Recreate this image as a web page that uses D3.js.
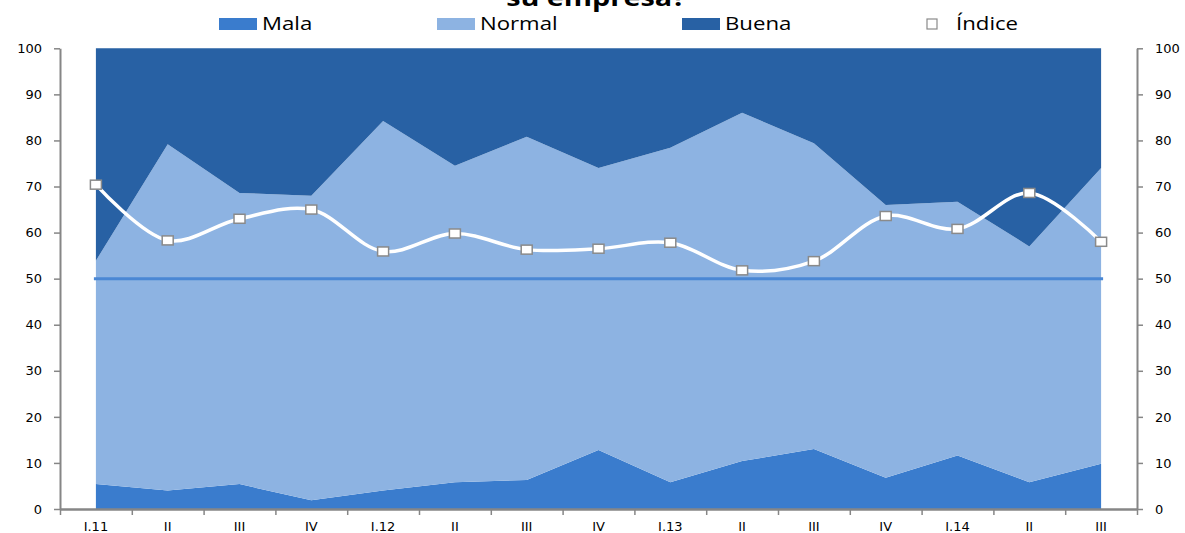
<!DOCTYPE html>
<html>
<head>
<meta charset="utf-8">
<script src="https://cdn.jsdelivr.net/npm/d3@7"></script>
<style>
  body { margin: 0; background: #fff; }
  svg { display: block; }
  .axis path, .axis line { stroke: #868686; }
  .axis text { font-family: "DejaVu Sans", sans-serif; font-size: 13px; fill: #000; }
</style>
</head>
<body>
<div id="chart"></div>
<script>
// categories (quarters) and series values
const categories = ["I.11", "II", "III", "IV", "I.12", "II", "III", "IV", "I.13", "II", "III", "IV", "I.14", "II", "III"];
const mala = [5.4, 4.0, 5.4, 1.9, 4.0, 5.8, 6.3, 12.8, 5.8, 10.4, 13.0, 6.8, 11.6, 5.8, 9.8];
const normal = [48.5, 75.2, 63.2, 66.1, 80.2, 68.7, 74.5, 61.2, 72.6, 75.6, 66.4, 59.2, 55.1, 51.2, 64.2];
const buena = [46.1, 20.8, 31.4, 32.0, 15.8, 25.5, 19.2, 26.0, 21.6, 14.0, 20.6, 34.0, 33.3, 43.0, 26.0];
const indice = [70.4, 58.3, 63.0, 65.0, 55.9, 59.8, 56.3, 56.5, 57.8, 51.8, 53.8, 63.6, 60.8, 68.6, 58.0];
const yTicks = [0, 10, 20, 30, 40, 50, 60, 70, 80, 90, 100];
const refValue = 50;

const w = 1185, h = 533;
const plotLeft = 60, plotRight = 1137, plotTop = 48.3, plotBottom = 509;

const colors = { Mala: "#3A7CCD", Normal: "#8DB3E2", Buena: "#2861A4" };
const keys = ["Mala", "Normal", "Buena"];

const table = categories.map((c, i) => ({ i: i, Mala: mala[i], Normal: normal[i], Buena: buena[i] }));

const svg = d3.select("#chart").append("svg").attr("width", w).attr("height", h);

const x = d3.scaleBand().domain(d3.range(categories.length)).range([plotLeft, plotRight]);
const xc = i => x(i) + x.bandwidth() / 2;
const y = d3.scaleLinear().domain([0, 100]).range([plotBottom, plotTop]);

// stacked areas
const series = d3.stack().keys(keys)(table);
const area = d3.area()
    .x(d => xc(d.data.i))
    .y0(d => y(d[0]))
    .y1(d => y(d[1]));

svg.append("g")
    .selectAll("path")
    .data(series)
    .enter()
    .append("path")
    .attr("d", area)
    .attr("fill", d => colors[d.key]);

// 50 reference line
svg.append("line")
    .attr("x1", xc(0) - 2)
    .attr("x2", xc(categories.length - 1) + 2)
    .attr("y1", y(refValue))
    .attr("y2", y(refValue))
    .attr("stroke", "#4A87D4")
    .attr("stroke-width", 3);

// axes
const yLeft = svg.append("g")
    .attr("class", "axis")
    .attr("transform", `translate(${plotLeft},0)`)
    .call(d3.axisLeft(y).tickValues(yTicks).tickSize(6).tickPadding(12).tickSizeOuter(0));

const yRight = svg.append("g")
    .attr("class", "axis")
    .attr("transform", `translate(${plotRight},0)`)
    .call(d3.axisRight(y).tickValues(yTicks).tickSize(6).tickPadding(12).tickSizeOuter(0));

[yLeft, yRight].forEach(g => {
    g.select(".domain").attr("stroke-width", 2);
    g.selectAll(".tick line").attr("stroke-width", 1.5);
});

// category tick marks sit between categories
const xEdges = d3.scaleLinear().domain([0, categories.length]).range([plotLeft, plotRight]);
const xTickAxis = svg.append("g")
    .attr("class", "axis")
    .attr("transform", `translate(0,${plotBottom})`)
    .call(d3.axisBottom(xEdges).tickValues(d3.range(categories.length + 1)).tickSize(6).tickSizeOuter(0).tickFormat(""));
xTickAxis.select(".domain").attr("stroke-width", 2.5);
xTickAxis.selectAll(".tick line").attr("stroke-width", 1.5);

const xLabelAxis = svg.append("g")
    .attr("class", "axis")
    .attr("transform", `translate(0,${plotBottom})`)
    .call(d3.axisBottom(x).tickSize(0).tickPadding(13).tickFormat(i => categories[i]));
xLabelAxis.select(".domain").remove();

// index line
const line = d3.line()
    .x((d, i) => xc(i))
    .y(d => y(d))
    .curve(d3.curveCatmullRom.alpha(0.5));

svg.append("path")
    .datum(indice)
    .attr("d", line)
    .attr("fill", "none")
    .attr("stroke", "#fff")
    .attr("stroke-width", 3.5);

svg.append("g")
    .selectAll("rect")
    .data(indice)
    .enter()
    .append("rect")
    .attr("x", (d, i) => xc(i) - 5.5)
    .attr("y", d => y(d) - 4.5)
    .attr("width", 11)
    .attr("height", 9)
    .attr("fill", "#fff")
    .attr("stroke", "#8A8A8A")
    .attr("stroke-width", 1.5);

// title (mostly cut off at the top)
svg.append("text")
    .attr("transform", "translate(596,6) scale(1.2,1)")
    .attr("text-anchor", "middle")
    .style("font-family", "'Open Sans', sans-serif")
    .style("font-weight", "bold")
    .style("font-size", "24px")
    .text("su empresa?");

// legend
const legendItems = [
    { name: "Mala", type: "area", x: 219, tx: 262 },
    { name: "Normal", type: "area", x: 437, tx: 480 },
    { name: "Buena", type: "area", x: 682, tx: 725 },
    { name: "Índice", type: "marker", x: 927, tx: 956 }
];

const legend = svg.append("g")
    .selectAll("g")
    .data(legendItems)
    .enter()
    .append("g");

legend.filter(d => d.type === "area")
    .append("rect")
    .attr("x", d => d.x)
    .attr("y", 18)
    .attr("width", 38)
    .attr("height", 12)
    .attr("fill", d => colors[d.name]);

legend.filter(d => d.type === "marker")
    .append("rect")
    .attr("x", d => d.x)
    .attr("y", 19)
    .attr("width", 10)
    .attr("height", 10)
    .attr("fill", "#fff")
    .attr("stroke", "#8A8A8A")
    .attr("stroke-width", 1.2);

legend.append("text")
    .attr("transform", d => `translate(${d.tx},30) scale(1.2,1)`)
    .style("font-family", "'Open Sans', sans-serif")
    .style("font-size", "18.5px")
    .style("fill", "#000")
    .text(d => d.name);
</script>
</body>
</html>
